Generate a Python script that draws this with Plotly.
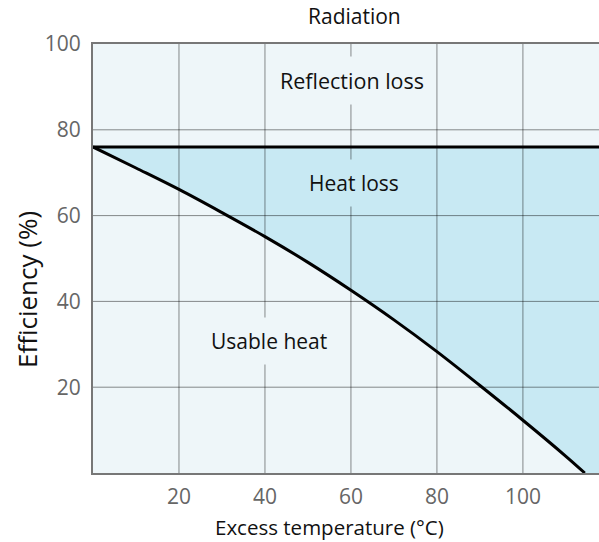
import plotly.graph_objects as go

# ---- data ----
temperature = [0, 10, 20, 30, 40, 50, 60, 70, 80, 90, 100, 110, 114.4]
usable_heat = [76, 71.1, 66.1, 60.7, 55.1, 49.1, 42.6, 35.7, 28.3, 20.4, 12.3, 3.9, 0]
reflection_level = 76
x_ticks = [20, 40, 60, 80, 100]
y_ticks = [20, 40, 60, 80, 100]
x_range = [0, 117.7]
y_range = [0, 100]

BG = "rgb(238,246,249)"
FILL = "rgb(200,233,243)"
GRID = "rgba(0,0,0,0.45)"
FONT = "Open Sans"

fig = go.Figure()

# heat-loss area between reflection level and usable heat curve
fig.add_trace(go.Scatter(
    x=temperature + [x_range[1], x_range[1]],
    y=usable_heat + [y_range[0], reflection_level],
    fill="toself", fillcolor=FILL, mode="none", hoverinfo="skip",
    line=dict(shape="spline"),
))
fig.add_trace(go.Scatter(
    x=[x_range[0], x_range[1]], y=[reflection_level, reflection_level],
    mode="lines", line=dict(color="black", width=3), cliponaxis=False,
))
fig.add_trace(go.Scatter(
    x=temperature, y=usable_heat,
    mode="lines", line=dict(color="black", width=3, shape="spline", smoothing=1.0),
))

# grid lines above the fill
shapes = []
for xv in x_ticks:
    shapes.append(dict(type="line", xref="x", yref="y", x0=xv, x1=xv,
                       y0=y_range[0], y1=y_range[1], layer="above",
                       line=dict(color=GRID, width=1)))
for yv in y_ticks[:-1]:
    shapes.append(dict(type="line", xref="x", yref="y", x0=x_range[0], x1=x_range[1],
                       y0=yv, y1=yv, layer="above",
                       line=dict(color=GRID, width=1)))

W, H = 599, 542
L, T, B = 93, 44, 69
labels = [
    dict(text="Radiation", x=354, y=16, size=21, bg=None),
    dict(text="Reflection loss", x=351.5, y=81, size=21.5, bg=BG),
    dict(text="Heat loss", x=354, y=183, size=21, bg=FILL),
    dict(text="Usable heat", x=269, y=341, size=21, bg=BG),
]
ann = []
for a in labels:
    ann.append(dict(
        text=a["text"], xref="paper", yref="paper",
        x=(a["x"] - L) / (W - L), y=(H - B - a["y"]) / (H - T - B),
        xanchor="center", yanchor="middle", showarrow=False,
        font=dict(family=FONT, size=a["size"], color="#111"),
        bgcolor=a["bg"], borderpad=9 if a["bg"] else 0,
    ))
# axis titles
ann.append(dict(text="Excess temperature (°C)", xref="paper", yref="paper",
                x=(329.5 - L) / (W - L), y=(H - B - 527) / (H - T - B),
                xanchor="center", yanchor="middle", showarrow=False,
                font=dict(family=FONT, size=20.5, color="#111")))
ann.append(dict(text="Efficiency (%)", xref="paper", yref="paper",
                x=(27 - L) / (W - L), y=(H - B - 290) / (H - T - B),
                xanchor="center", yanchor="middle", showarrow=False, textangle=-90,
                font=dict(family=FONT, size=26, color="#111")))

fig.update_layout(
    width=W, height=H,
    margin=dict(l=L, r=0, t=T, b=B),
    paper_bgcolor="white", plot_bgcolor=BG,
    showlegend=False,
    shapes=shapes, annotations=ann,
    xaxis=dict(range=x_range, tickvals=x_ticks, showgrid=False, zeroline=False,
               showline=True, linecolor="#777", linewidth=2, mirror=True,
               ticks="", ticklabelstandoff=4,
               tickfont=dict(family=FONT, size=21, color="#666")),
    yaxis=dict(range=y_range, tickvals=y_ticks, showgrid=False, zeroline=False,
               showline=True, linecolor="#777", linewidth=2,
               ticks="", ticklabelstandoff=6,
               tickfont=dict(family=FONT, size=21, color="#666")),
)

fig.write_html("out.html",
               config={"displayModeBar": False},
               post_script="document.body.style.margin='0';document.body.style.overflow='hidden';")
